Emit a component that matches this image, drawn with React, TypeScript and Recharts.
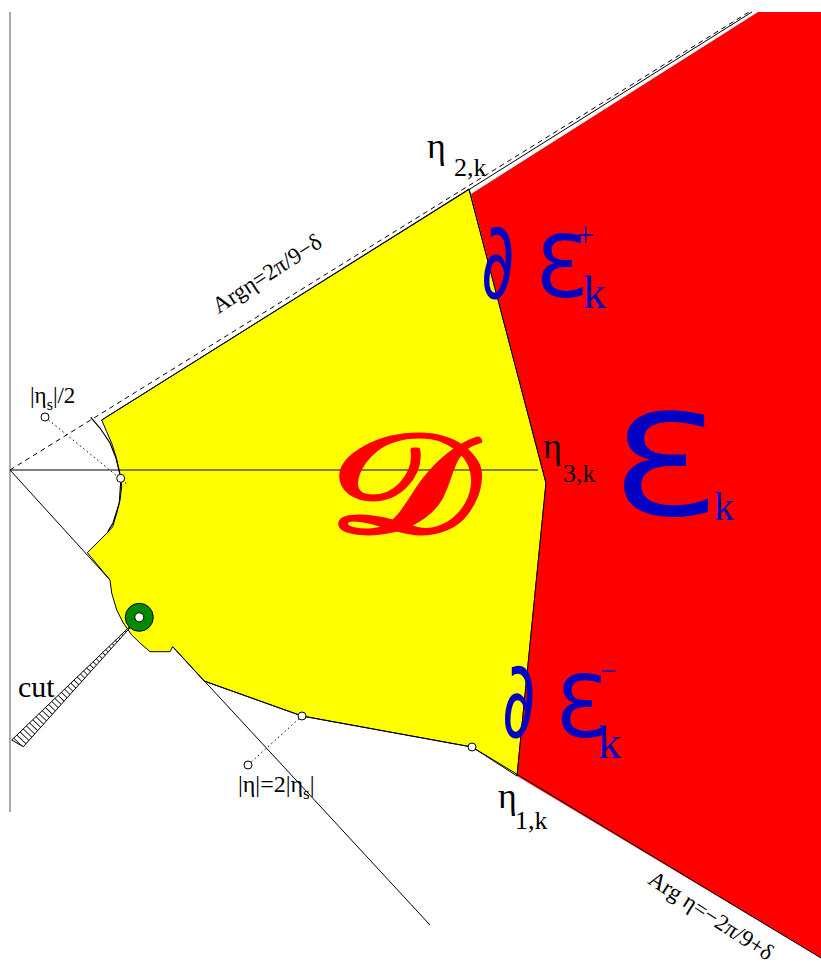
import React from 'react';
import { ComposedChart, XAxis, YAxis, Area, Line, Scatter, ReferenceDot } from 'recharts';

// plane coordinates: origin at the apex of the sector, 1 unit = 1 px, y pointing up
type Pt = { x: number; y: number };

const regionD: Pt[] = [
  { x: 91.7, y: 50 }, { x: 459, y: 281 }, { x: 536, y: -13 }, { x: 507, y: -306 },
  { x: 462, y: -277 }, { x: 292, y: -246 }, { x: 194, y: -211 }, { x: 162.7, y: -176.7 },
  { x: 160, y: -181.7 }, { x: 140, y: -181.7 }, { x: 130, y: -173 }, { x: 121.7, y: -165 },
  { x: 113.3, y: -153 }, { x: 106.7, y: -140 }, { x: 101.7, y: -123 }, { x: 100, y: -110 },
  { x: 77.3, y: -82.7 }, { x: 98.3, y: -61.7 }, { x: 102.7, y: -56.7 }, { x: 106.7, y: -43.3 },
  { x: 110, y: -30 }, { x: 111.7, y: -16.7 }, { x: 110.7, y: -8 }, { x: 109, y: 0 },
  { x: 106, y: 13.3 }, { x: 101.7, y: 26.7 }, { x: 96.7, y: 38.3 }, { x: 91.7, y: 50 },
];

const regionE: Pt[] = [
  { x: 461, y: 276 }, { x: 748, y: 458 }, { x: 811, y: 458 }, { x: 811, y: -488 },
  { x: 507, y: -306 }, { x: 536, y: -13 }, { x: 461, y: 276 },
];

const cutWedge: Pt[] = [
  { x: 129.3, y: -147.3 }, { x: 1.7, y: -270 }, { x: 13.3, y: -276.7 }, { x: 129.3, y: -147.3 },
];

const verticalAxis: Pt[] = [{ x: 0, y: 458 }, { x: 0, y: -342 }];
const realAxis: Pt[] = [{ x: 0, y: 0 }, { x: 528, y: 0 }];
const dashedRay: Pt[] = [{ x: 0, y: 0 }, { x: 739, y: 458 }];
const upperEdge: Pt[] = [{ x: 91.7, y: 50 }, { x: 742, y: 458 }];
const lowerRayA: Pt[] = [{ x: 0, y: 0 }, { x: 100, y: -110 }];
const lowerRayB: Pt[] = [{ x: 162.7, y: -176.7 }, { x: 420, y: -455 }];
const lowerEdge: Pt[] = [{ x: 194, y: -211 }, { x: 292, y: -246 }, { x: 462, y: -277 }, { x: 811, y: -488 }];
const rightEdge: Pt[] = [{ x: 459, y: 281 }, { x: 536, y: -13 }, { x: 507, y: -306 }];
const halfArc: Pt[] = [
  { x: 80.7, y: 52.7 }, { x: 90, y: 42 }, { x: 100, y: 27 }, { x: 106, y: 12 }, { x: 109.5, y: -2 },
  { x: 110.7, y: -12 }, { x: 109.3, y: -33 }, { x: 103, y: -53 }, { x: 97.7, y: -61.7 },
];
const guideHalf: Pt[] = [{ x: 35, y: 53 }, { x: 116.7, y: -14 }];
const guideDouble: Pt[] = [{ x: 238, y: -295 }, { x: 292, y: -246 }];

const openMarkers: Pt[] = [
  { x: 35, y: 53 }, { x: 110.7, y: -8.3 }, { x: 292, y: -246 }, { x: 462, y: -277 }, { x: 238, y: -295 },
];
const singularity: Pt[] = [{ x: 129.3, y: -147.3 }];

const ETA = 'η';
const SUB_2K = '2,k';
const SUB_3K = '3,k';
const SUB_1K = '1,k';
const CUT = 'cut';
const ARG_UP = 'Argη=2π/9−δ';
const ARG_DOWN = 'Arg η=−2π/9+δ';
const PARTIAL = '∂';
const SCRIPT_E = 'Ɛ';
const SCRIPT_D = '𝒟';

const BLUE = '#0000c4';
const SERIF = '"Liberation Serif", "DejaVu Serif", serif';
const SANS = '"DejaVu Sans", "Noto Sans", sans-serif';

type Part = { t: string; dy?: number; size?: number };
type LabelOpts = {
  size: number;
  font?: string;
  color?: string;
  weight?: number;
  outline?: number;
  angle?: number;
  sx?: number;
  anchor?: 'start' | 'middle' | 'end';
};

const label = (parts: Part[], o: LabelOpts) => (props: any) => (
  <text
    transform={`translate(${props.cx},${props.cy}) rotate(${o.angle ?? 0}) scale(${o.sx ?? 1},1)`}
    fontFamily={o.font ?? SERIF}
    fontSize={o.size}
    fontWeight={o.weight ?? 400}
    fill={o.color ?? '#000'}
    stroke={o.outline ? o.color : 'none'}
    strokeWidth={o.outline ?? 0}
    strokeLinejoin="round"
    textAnchor={o.anchor ?? 'start'}
  >
    {parts.map((p, i) => (
      <tspan key={i} dy={p.dy ?? 0} fontSize={p.size ?? o.size}>
        {p.t}
      </tspan>
    ))}
  </text>
);

const openDot = (props: any) => (
  <circle cx={props.cx} cy={props.cy} r={4} fill="#fff" stroke="#000" strokeWidth={1} />
);

const ringDot = (props: any) => (
  <g>
    <circle cx={props.cx} cy={props.cy} r={14} fill="#008a00" stroke="#000" strokeWidth={1} />
    <circle cx={props.cx} cy={props.cy} r={4.5} fill="#fff" stroke="#000" strokeWidth={1} />
  </g>
);

const polyLine = (data: Pt[], extra: any = {}) => (
  <Line
    data={data}
    dataKey="y"
    type="linear"
    stroke="#000"
    strokeWidth={1}
    dot={false}
    activeDot={false}
    isAnimationActive={false}
    {...extra}
  />
);

const region = (data: Pt[], fill: string, stroke: string) => (
  <Area
    data={data}
    dataKey="y"
    type="linear"
    baseValue={data[0].y}
    fill={fill}
    fillOpacity={1}
    stroke={stroke}
    strokeWidth={1}
    dot={false}
    activeDot={false}
    isAnimationActive={false}
  />
);

const tag = (x: number, y: number, parts: Part[], o: LabelOpts) => (
  <ReferenceDot x={x} y={y} r={1} ifOverflow="visible" shape={label(parts, o)} />
);

export default function App() {
  return (
    <div style={{ position: 'absolute', left: 0, top: 0, width: 821, height: 969, background: '#fff' }}>
      <ComposedChart width={821} height={969} margin={{ top: 0, right: 0, bottom: 0, left: 0 }}>
        <defs>
          <pattern id="cutHatch" patternUnits="userSpaceOnUse" width={4.4} height={4.4} patternTransform="rotate(-46)">
            <rect width={4.4} height={4.4} fill="#fff" />
            <line x1={2.2} y1={0} x2={2.2} y2={4.4} stroke="#000" strokeWidth={0.8} />
          </pattern>
        </defs>
        <XAxis type="number" dataKey="x" domain={[-10, 811]} allowDataOverflow hide />
        <YAxis type="number" dataKey="y" domain={[-499, 470]} allowDataOverflow hide />

        {region(regionD, '#ffff00', '#000')}
        {region(regionE, '#ff0000', 'none')}

        {polyLine(verticalAxis, { stroke: '#555' })}
        {polyLine(realAxis)}
        {polyLine(dashedRay, { strokeDasharray: '5 4' })}
        {polyLine(upperEdge)}
        {polyLine(lowerRayA)}
        {polyLine(lowerRayB)}
        {polyLine(lowerEdge)}
        {polyLine(rightEdge)}
        {polyLine(halfArc, { strokeWidth: 1.2 })}
        {polyLine(guideHalf, { strokeDasharray: '1.5 3' })}
        {polyLine(guideDouble, { strokeDasharray: '1.5 3' })}

        <Scatter data={singularity} shape={ringDot} isAnimationActive={false} />
        {region(cutWedge, 'url(#cutHatch)', '#000')}
        <Scatter data={openMarkers} shape={openDot} isAnimationActive={false} />

        {tag(417, 312, [{ t: ETA }], { size: 36 })}
        {tag(444, 294, [{ t: SUB_2K }], { size: 26 })}
        {tag(533, 12, [{ t: ETA }], { size: 36 })}
        {tag(553, -11.7, [{ t: SUB_3K }], { size: 26 })}
        {tag(488, -338, [{ t: ETA }], { size: 36 })}
        {tag(505, -359, [{ t: SUB_1K }], { size: 26 })}
        {tag(20, 67, [{ t: '|η' }, { t: 's', dy: 7, size: 16 }, { t: '|/2', dy: -7 }], { size: 23 })}
        {tag(228, -322, [{ t: '|η|=2|η' }, { t: 's', dy: 7, size: 17 }, { t: '|', dy: -7 }], { size: 24 })}
        {tag(8, -227, [{ t: CUT }], { size: 30 })}
        {tag(261, 190, [{ t: ARG_UP }], { size: 23, angle: -33, anchor: 'middle' })}
        {tag(697, -452, [{ t: ARG_DOWN }], { size: 23, angle: 33, anchor: 'middle' })}

        {tag(471, 172, [{ t: PARTIAL }], { size: 108, font: SANS, color: BLUE, sx: 0.6 })}
        {tag(525, 173, [{ t: SCRIPT_E }], { size: 85, font: SANS, color: BLUE })}
        {tag(566, 224.5, [{ t: '+' }], { size: 33, color: BLUE })}
        {tag(573, 162, [{ t: 'k' }], { size: 46, color: BLUE })}

        {tag(492, -267, [{ t: PARTIAL }], { size: 108, font: SANS, color: BLUE, sx: 0.6 })}
        {tag(545, -267, [{ t: SCRIPT_E }], { size: 85, font: SANS, color: BLUE })}
        {tag(590, -210.5, [{ t: '−' }], { size: 30, color: BLUE })}
        {tag(588, -288, [{ t: 'k' }], { size: 46, color: BLUE })}

        {tag(600, -45, [{ t: SCRIPT_E }], { size: 140, font: SANS, color: BLUE, sx: 1.25 })}
        {tag(704, -50, [{ t: 'k' }], { size: 40, color: BLUE })}

        {tag(318, -62, [{ t: SCRIPT_D }], { size: 140, font: SANS, color: '#ff0000', outline: 5, sx: 1.35 })}
      </ComposedChart>
    </div>
  );
}
